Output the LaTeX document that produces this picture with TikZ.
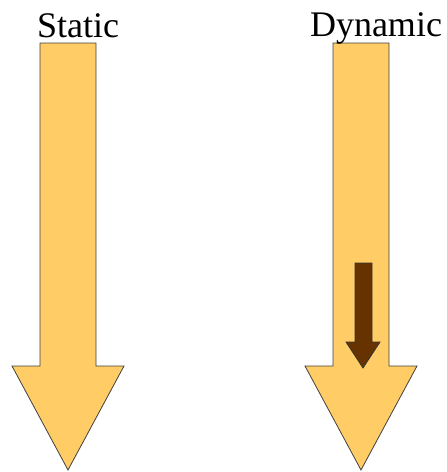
\documentclass[tikz,border=0pt]{standalone}
\usepackage{fontspec}
\setmainfont{Liberation Serif}

\definecolor{arrowyellow}{RGB}{255,204,102}
\definecolor{arrowbrown}{RGB}{102,51,0}

\tikzset{
    bigarrow/.style={fill=arrowyellow, draw=black!75, line width=0.8pt, line join=miter},
    smallarrow/.style={fill=arrowbrown, draw=black!80, line width=0.8pt, line join=miter},
    title/.style={anchor=base, inner sep=0pt, font=\fontsize{36}{40}\selectfont}
}

\begin{document}
\begin{tikzpicture}[x=1pt, y=-1pt]
    \useasboundingbox (0,0) rectangle (447,472);

    % draw big arrows
    \foreach \c in {68, 361}
    {
        \draw[bigarrow] (\c-28,43) -- (\c+28,43) -- (\c+28,366) -- (\c+56,366)
            -- (\c,470) -- (\c-56,366) -- (\c-28,366) -- cycle;
    }

    % small arrow inside the dynamic one
    \draw[smallarrow] (355,263) -- (372,263) -- (372,342) -- (380,342)
        -- (363,368) -- (346,342) -- (355,342) -- cycle;

    % labels
    \node[title] (static) at (78,37) {Static};
    \node[title] (dynamic) at (376,36) {Dynamic};
\end{tikzpicture}
\end{document}
